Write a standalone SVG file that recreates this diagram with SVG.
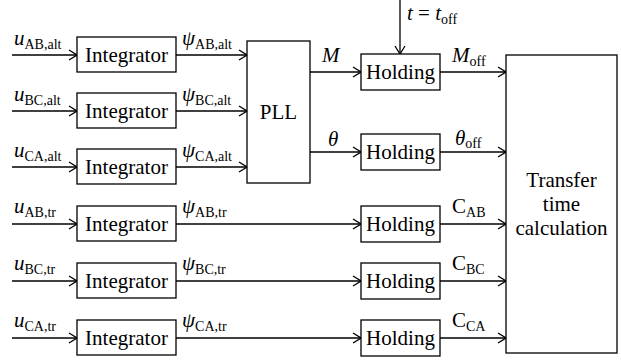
<svg xmlns="http://www.w3.org/2000/svg" width="622" height="360" viewBox="0 0 622 360">
<style>
.box{fill:#fff;stroke:#000;stroke-width:1.3}
.ln{fill:none;stroke:#000;stroke-width:1.3;marker-end:url(#arr)}
.t{font-size:21px;fill:#000}
.c{text-anchor:middle}
.i{font-style:italic}
.s{font-size:14px}
</style>
<defs>
<marker id="arr" markerWidth="10" markerHeight="12" refX="9" refY="6" orient="auto" markerUnits="userSpaceOnUse">
<path d="M1,1 L9,6 L1,11" fill="none" stroke="#000" stroke-width="1.3"/>
</marker>
</defs>
<rect width="622" height="360" fill="#fff"/>
<g id="connectors">
<path class="ln" d="M12,55 H77"/>
<path class="ln" d="M12,111 H77"/>
<path class="ln" d="M12,167 H77"/>
<path class="ln" d="M12,224 H77"/>
<path class="ln" d="M12,281 H77"/>
<path class="ln" d="M12,338 H77"/>
<path class="ln" d="M176,55 H247"/>
<path class="ln" d="M176,111 H247"/>
<path class="ln" d="M176,167 H247"/>
<path class="ln" d="M176,224 H361"/>
<path class="ln" d="M176,281 H361"/>
<path class="ln" d="M176,338 H361"/>
<path class="ln" d="M310,72 H361"/>
<path class="ln" d="M310,152 H361"/>
<path class="ln" d="M400,0 V54"/>
<path class="ln" d="M440,72 H506"/>
<path class="ln" d="M440,152 H506"/>
<path class="ln" d="M440,224 H506"/>
<path class="ln" d="M440,281 H506"/>
<path class="ln" d="M440,338 H506"/>
</g>
<g id="labels">
<text class="t" font-family="Liberation Serif" x="14" y="45"><tspan class="i">u</tspan><tspan class="s" dy="4">AB,alt</tspan></text>
<text class="t" font-family="Liberation Serif" x="14" y="101"><tspan class="i">u</tspan><tspan class="s" dy="4">BC,alt</tspan></text>
<text class="t" font-family="Liberation Serif" x="14" y="157"><tspan class="i">u</tspan><tspan class="s" dy="4">CA,alt</tspan></text>
<text class="t" font-family="Liberation Serif" x="14" y="213"><tspan class="i">u</tspan><tspan class="s" dy="4">AB,tr</tspan></text>
<text class="t" font-family="Liberation Serif" x="14" y="270"><tspan class="i">u</tspan><tspan class="s" dy="4">BC,tr</tspan></text>
<text class="t" font-family="Liberation Serif" x="14" y="327"><tspan class="i">u</tspan><tspan class="s" dy="4">CA,tr</tspan></text>
<text class="t" font-family="Liberation Serif" x="182" y="45"><tspan class="i">ψ</tspan><tspan class="s" dy="4">AB,alt</tspan></text>
<text class="t" font-family="Liberation Serif" x="182" y="101"><tspan class="i">ψ</tspan><tspan class="s" dy="4">BC,alt</tspan></text>
<text class="t" font-family="Liberation Serif" x="182" y="157"><tspan class="i">ψ</tspan><tspan class="s" dy="4">CA,alt</tspan></text>
<text class="t" font-family="Liberation Serif" x="182" y="213"><tspan class="i">ψ</tspan><tspan class="s" dy="4">AB,tr</tspan></text>
<text class="t" font-family="Liberation Serif" x="182" y="270"><tspan class="i">ψ</tspan><tspan class="s" dy="4">BC,tr</tspan></text>
<text class="t" font-family="Liberation Serif" x="182" y="327"><tspan class="i">ψ</tspan><tspan class="s" dy="4">CA,tr</tspan></text>
<text class="t i" font-family="Liberation Serif" x="322" y="62">M</text>
<text class="t i" font-family="Liberation Serif" x="328" y="146">θ</text>
<text class="t" font-family="Liberation Serif" x="407" y="20"><tspan class="i">t</tspan> = <tspan class="i">t</tspan><tspan class="s" dy="4">off</tspan></text>
<text class="t" font-family="Liberation Serif" x="452" y="62"><tspan class="i">M</tspan><tspan class="s" dy="4">off</tspan></text>
<text class="t" font-family="Liberation Serif" x="455" y="145"><tspan class="i">θ</tspan><tspan class="s" dy="3">off</tspan></text>
<text class="t" font-family="Liberation Serif" x="452" y="213">C<tspan class="s" dy="4">AB</tspan></text>
<text class="t" font-family="Liberation Serif" x="452" y="270">C<tspan class="s" dy="4">BC</tspan></text>
<text class="t" font-family="Liberation Serif" x="452" y="327">C<tspan class="s" dy="4">CA</tspan></text>
</g>
<g id="int1"><rect class="box" x="77" y="37" width="99" height="35"/><text class="t c" font-family="Liberation Serif" x="126.5" y="62">Integrator</text></g>
<g id="int2"><rect class="box" x="77" y="93" width="99" height="35"/><text class="t c" font-family="Liberation Serif" x="126.5" y="118">Integrator</text></g>
<g id="int3"><rect class="box" x="77" y="149" width="99" height="35"/><text class="t c" font-family="Liberation Serif" x="126.5" y="174">Integrator</text></g>
<g id="int4"><rect class="box" x="77" y="206" width="99" height="35"/><text class="t c" font-family="Liberation Serif" x="126.5" y="231">Integrator</text></g>
<g id="int5"><rect class="box" x="77" y="263" width="99" height="35"/><text class="t c" font-family="Liberation Serif" x="126.5" y="288">Integrator</text></g>
<g id="int6"><rect class="box" x="77" y="320" width="99" height="35"/><text class="t c" font-family="Liberation Serif" x="126.5" y="345">Integrator</text></g>
<g id="pll"><rect class="box" x="247" y="41" width="63" height="142"/><text class="t c" font-family="Liberation Serif" x="278.5" y="119">PLL</text></g>
<g id="hold1"><rect class="box" x="361" y="54" width="79" height="36"/><text class="t c" font-family="Liberation Serif" x="400.5" y="79">Holding</text></g>
<g id="hold2"><rect class="box" x="361" y="134" width="79" height="36"/><text class="t c" font-family="Liberation Serif" x="400.5" y="159">Holding</text></g>
<g id="hold3"><rect class="box" x="361" y="206" width="79" height="36"/><text class="t c" font-family="Liberation Serif" x="400.5" y="231">Holding</text></g>
<g id="hold4"><rect class="box" x="361" y="263" width="79" height="36"/><text class="t c" font-family="Liberation Serif" x="400.5" y="288">Holding</text></g>
<g id="hold5"><rect class="box" x="361" y="320" width="79" height="36"/><text class="t c" font-family="Liberation Serif" x="400.5" y="345">Holding</text></g>
<g id="transfer"><rect class="box" x="506" y="55" width="111" height="298"/>
<text class="t c" font-family="Liberation Serif" x="561.5" y="187">Transfer</text>
<text class="t c" font-family="Liberation Serif" x="561.5" y="211">time</text>
<text class="t c" font-family="Liberation Serif" x="561.5" y="235">calculation</text></g>
</svg>
